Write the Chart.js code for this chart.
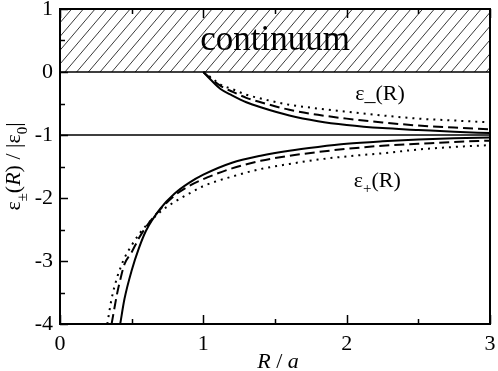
<!DOCTYPE html>
<html lang="en">
<head>
<meta charset="UTF-8">
<title>Energy levels vs R</title>
<script src="https://cdn.jsdelivr.net/npm/chart.js@4.4.1/dist/chart.umd.min.js"></script>
<style>
    * { margin: 0; padding: 0; box-sizing: border-box; }
    body { background: #fff; font-family: "Liberation Serif", serif; }
    #wrap { width: 498px; height: 371px; position: relative; }
</style>
</head>
<body>
<div id="wrap"><canvas id="levels"></canvas></div>
<script>
    // Data
    const xTicks = [0, 1, 2, 3];
    const yTicks = [-4, -3, -2, -1, 0, 1];
    const continuumTop = 1;
    const asymptote = -1;

    // epsilon_-(R): upper branch, leaves the continuum at R = a
    const upperR = [1.0, 1.05, 1.12, 1.2, 1.3, 1.4, 1.6, 1.8, 2.0, 2.25, 2.5, 2.75, 3.0];
    const minusSolid  = [0, -0.12, -0.27, -0.37, -0.48, -0.56, -0.69, -0.78, -0.84, -0.89, -0.92, -0.95, -0.97];
    const minusDashed = [0, -0.10, -0.22, -0.31, -0.41, -0.48, -0.60, -0.68, -0.74, -0.80, -0.85, -0.88, -0.91];
    const minusDotted = [0, -0.08, -0.20, -0.27, -0.36, -0.42, -0.52, -0.58, -0.63, -0.69, -0.74, -0.77, -0.80];

    // epsilon_+(R): lower branch
    const lowerR = [0.33, 0.36, 0.4, 0.42, 0.45, 0.5, 0.55, 0.6, 0.7, 0.8, 0.9, 1.0, 1.2, 1.4, 1.6, 1.8, 2.0, 2.25, 2.5, 2.75, 3.0];
    const plusSolid  = [null, null, null, -4.0, -3.6, -3.15, -2.8, -2.52, -2.17, -1.93, -1.76, -1.63, -1.44, -1.33, -1.25, -1.19, -1.14, -1.10, -1.07, -1.05, -1.04];
    const plusDashed = [null, -4.0, -3.5, -3.3, -3.05, -2.86, -2.64, -2.46, -2.18, -1.96, -1.81, -1.70, -1.53, -1.41, -1.33, -1.27, -1.22, -1.17, -1.14, -1.11, -1.09];
    const plusDotted = [-4.0, -3.6, -3.25, -3.12, -2.95, -2.75, -2.58, -2.44, -2.22, -2.06, -1.93, -1.81, -1.66, -1.54, -1.46, -1.39, -1.34, -1.29, -1.23, -1.19, -1.16];

    const SERIF = "'Liberation Serif', 'Times New Roman', Times, serif";

    function pts(rs, vals) {
        return rs.map((r, i) => ({ x: r, y: vals[i] }));
    }

    function line(data, dash) {
        return {
            data: data,
            borderColor: '#000',
            borderWidth: 2,
            borderDash: dash,
            pointRadius: 0,
            fill: false,
            cubicInterpolationMode: 'monotone'
        };
    }

    // draws a run of [text, style] pieces starting at x, returns end x
    function drawPieces(ctx, pieces, x, y, size) {
        pieces.forEach(([txt, kind]) => {
            let f = size, dy = 0, style = '';
            if (kind === 'sub') { f = Math.round(size * 0.68); dy = size * 0.3; }
            if (kind === 'it') { style = 'italic '; }
            ctx.font = style + f + 'px ' + SERIF;
            ctx.fillText(txt, x, y + dy);
            x += ctx.measureText(txt).width;
        });
        return x;
    }

    function piecesWidth(ctx, pieces, size) {
        let w = 0;
        pieces.forEach(([txt, kind]) => {
            let f = kind === 'sub' ? Math.round(size * 0.68) : size;
            ctx.font = (kind === 'it' ? 'italic ' : '') + f + 'px ' + SERIF;
            w += ctx.measureText(txt).width;
        });
        return w;
    }

    const decor = {
        id: 'decor',
        beforeDatasetsDraw(chart) {
            const { ctx, chartArea: a, scales: { x, y } } = chart;
            const yTop = y.getPixelForValue(continuumTop);
            const yBot = y.getPixelForValue(0);

            // hatched continuum band
            ctx.save();
            ctx.beginPath();
            ctx.rect(a.left, yTop, a.right - a.left, yBot - yTop);
            ctx.clip();
            ctx.strokeStyle = '#222';
            ctx.lineWidth = 0.9;
            const dx = (yBot - yTop) * 0.85;
            ctx.beginPath();
            for (let xs = a.left - dx; xs < a.right + dx; xs += 11.7) {
                ctx.moveTo(xs, yBot);
                ctx.lineTo(xs + dx, yTop);
            }
            ctx.stroke();
            ctx.restore();

            ctx.save();
            ctx.fillStyle = '#000';
            ctx.font = '35px ' + SERIF;
            ctx.textAlign = 'center';
            ctx.textBaseline = 'alphabetic';
            ctx.fillText('continuum', x.getPixelForValue(1.5), yBot - 22);

            // lower edge of the band and the -1 asymptote
            ctx.strokeStyle = '#000';
            ctx.lineWidth = 1.5;
            ctx.beginPath();
            ctx.moveTo(a.left, yBot);
            ctx.lineTo(a.right, yBot);
            const ya = y.getPixelForValue(asymptote);
            ctx.moveTo(a.left, ya);
            ctx.lineTo(a.right, ya);
            ctx.stroke();
            ctx.restore();
        },
        afterDraw(chart) {
            const { ctx, chartArea: a, scales: { x, y } } = chart;
            ctx.save();
            ctx.strokeStyle = '#000';
            ctx.lineWidth = 2;
            ctx.strokeRect(a.left, a.top, a.right - a.left, a.bottom - a.top);

            // inside ticks
            ctx.lineWidth = 1.5;
            ctx.beginPath();
            for (let v = -4; v <= 1.001; v += 0.5) {
                const p = Math.round(y.getPixelForValue(v)) + 0.5;
                const len = Number.isInteger(v) ? 8 : 5;
                ctx.moveTo(a.left, p);
                ctx.lineTo(a.left + len, p);
            }
            for (let v = 0; v <= 3.001; v += 0.5) {
                const p = Math.round(x.getPixelForValue(v)) + 0.5;
                const len = Number.isInteger(v) ? 9 : 5;
                ctx.moveTo(p, a.bottom);
                ctx.lineTo(p, a.bottom - len);
                ctx.moveTo(p, a.top);
                ctx.lineTo(p, a.top + len);
            }
            ctx.stroke();

            ctx.fillStyle = '#000';
            ctx.textBaseline = 'alphabetic';
            ctx.textAlign = 'left';

            // curve labels
            drawPieces(ctx, [['ε_(R)', '']], x.getPixelForValue(2.06), y.getPixelForValue(-0.45), 22);
            drawPieces(ctx, [['ε', ''], ['+', 'sub'], ['(R)', '']], x.getPixelForValue(2.05), y.getPixelForValue(-1.82), 22);

            // x title
            const xt = [['R', 'it'], [' / ', ''], ['a', 'it']];
            const xw = piecesWidth(ctx, xt, 22);
            drawPieces(ctx, xt, (a.left + a.right) / 2 - xw / 2 + 3, 368, 22);

            // y title, rotated
            const yt = [['ε', ''], ['±', 'sub'], ['(', ''], ['R', 'it'], [') / |ε', ''], ['0', 'sub'], ['|', '']];
            const yw = piecesWidth(ctx, yt, 22);
            ctx.translate(20, (a.top + a.bottom) / 2);
            ctx.rotate(-Math.PI / 2);
            drawPieces(ctx, yt, -yw / 2, 0, 22);
            ctx.restore();
        }
    };

    function drawChart() {
        new Chart(document.getElementById('levels'), {
            type: 'line',
            data: {
                datasets: [
                    line(pts(upperR, minusSolid), []),
                    line(pts(upperR, minusDashed), [10, 5]),
                    line(pts(upperR, minusDotted), [2, 5]),
                    line(pts(lowerR, plusSolid), []),
                    line(pts(lowerR, plusDashed), [10, 5]),
                    line(pts(lowerR, plusDotted), [2, 5])
                ]
            },
            options: {
                responsive: true,
                maintainAspectRatio: false,
                animation: false,
                layout: { padding: { top: 9, right: 8, left: 0, bottom: 0 } },
                plugins: { legend: { display: false }, tooltip: { enabled: false } },
                scales: {
                    x: {
                        type: 'linear',
                        min: xTicks[0],
                        max: xTicks[xTicks.length - 1],
                        afterBuildTicks: s => { s.ticks = xTicks.map(v => ({ value: v })); },
                        grid: { display: true, drawOnChartArea: false, drawTicks: false },
                        border: { display: false },
                        ticks: { color: '#000', padding: 7, font: { family: SERIF, size: 22 } },
                        afterFit: s => { s.height = 47; s.paddingLeft = 0; s.paddingRight = 0; }
                    },
                    y: {
                        type: 'linear',
                        min: yTicks[0],
                        max: yTicks[yTicks.length - 1],
                        afterBuildTicks: s => { s.ticks = yTicks.map(v => ({ value: v })); },
                        grid: { display: true, drawOnChartArea: false, drawTicks: false },
                        border: { display: false },
                        ticks: { color: '#000', padding: 7, font: { family: SERIF, size: 22 } },
                        afterFit: s => { s.width = 60; s.paddingTop = 0; s.paddingBottom = 0; }
                    }
                }
            },
            plugins: [decor]
        });
    }

    // make sure the serif face is ready before the canvas text is drawn
    Promise.all([
        document.fonts.load("22px 'Liberation Serif'"),
        document.fonts.load("italic 22px 'Liberation Serif'")
    ]).then(drawChart, drawChart);
</script>
</body>
</html>
